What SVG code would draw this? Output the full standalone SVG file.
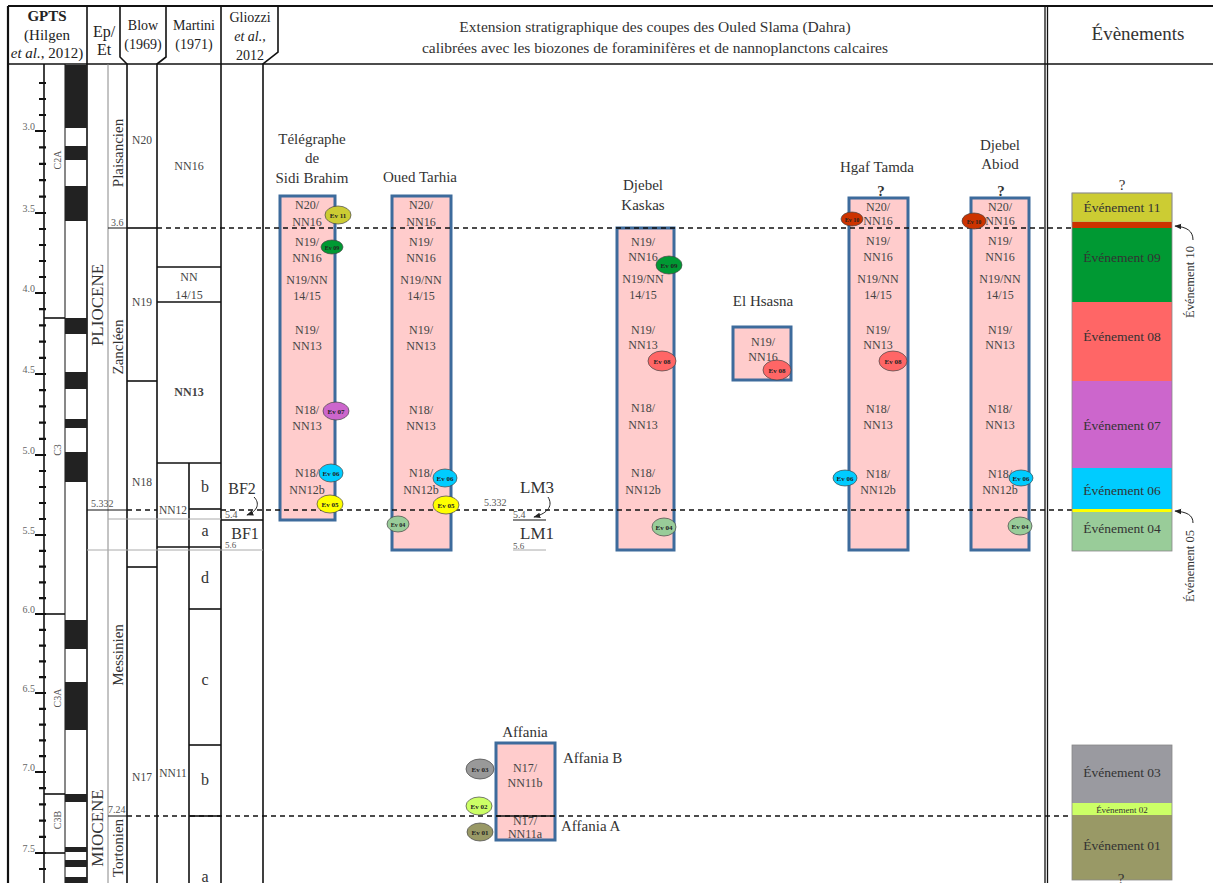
<svg xmlns="http://www.w3.org/2000/svg" width="1213" height="883" viewBox="0 0 1213 883">
<defs>
<style>
text{font-family:"Liberation Serif","Times New Roman",serif;fill:#333}
.hd{font-size:14px;text-anchor:middle;fill:#222}
.t15{font-size:15px;text-anchor:middle}
.lb{font-size:12px;text-anchor:middle;fill:#444}
.sm{font-size:10px;fill:#555}
.ag{font-size:10px;text-anchor:end;fill:#666}
.ev{font-size:7px;font-weight:bold;text-anchor:middle;fill:#222}
.eb{font-size:13.5px;text-anchor:middle;fill:#333}
.ln{stroke:#111;stroke-width:1.6;fill:none}
.th{stroke:#111;stroke-width:1;fill:none}
.gr{stroke:#aaa;stroke-width:1;fill:none}
.ds{stroke:#111;stroke-width:1.3;stroke-dasharray:5 4;fill:none}
.sec{fill:#ffcccc;stroke:#3d6b9c;stroke-width:3}
.bub{stroke:#444;stroke-width:0.7}
.blk{fill:#222}
.arr{stroke:#222;stroke-width:1;fill:none;marker-end:url(#ah)}
</style>
<marker id="ah" viewBox="0 0 10 10" refX="9" refY="5" markerWidth="7" markerHeight="7" orient="auto-start-reverse"><path d="M0,1 L10,5 L0,9 z" fill="#222"/></marker>
</defs>
<rect width="1213" height="883" fill="#fff"/>

<g id="frame">
<line class="ln" x1="8" y1="6" x2="1213" y2="6" style="stroke-width:2"/>
<line class="ln" x1="8" y1="64" x2="1213" y2="64"/>
<line class="ln" x1="8" y1="6" x2="8" y2="883" style="stroke-width:2.2"/>
<line class="ln" x1="87" y1="6" x2="87" y2="883"/>
<path class="ln" d="M120,6 L120,57 L127,64 L127,883"/>
<path class="ln" d="M166,6 L166,57 L157,64 L157,883"/>
<line class="ln" x1="221" y1="6" x2="221" y2="883"/>
<path class="ln" d="M278,6 L278,52 L263,64 L263,883"/>
<line class="th" x1="1045" y1="6" x2="1045" y2="883" style="stroke-width:1.3"/>
<line class="th" x1="1047.5" y1="6" x2="1047.5" y2="883" style="stroke-width:1.3"/>
<line class="ln" x1="44" y1="64" x2="44" y2="883"/>
<line class="th" x1="65" y1="64" x2="65" y2="883"/>
<line class="gr" x1="108" y1="64" x2="108" y2="883" style="stroke:#888"/>
<line class="ln" x1="189" y1="463" x2="189" y2="883"/>
</g>

<g id="header">
<text class="hd" x="47" y="21" style="font-size:15px;font-weight:bold">GPTS</text>
<text class="hd" x="47" y="40" style="font-size:15px">(Hilgen</text>
<text class="hd" x="47" y="58" style="font-size:15px"><tspan style="font-style:italic">et al.</tspan>, 2012)</text>
<text class="hd" x="104" y="37" style="font-size:16px">Ep/</text>
<text class="hd" x="104" y="55" style="font-size:16px">Et</text>
<text class="hd" x="143" y="30">Blow</text>
<text class="hd" x="143" y="49">(1969)</text>
<text class="hd" x="194" y="30">Martini</text>
<text class="hd" x="194" y="49">(1971)</text>
<text class="hd" x="250" y="22">Gliozzi</text>
<text class="hd" x="250" y="41" style="font-style:italic">et al.,</text>
<text class="hd" x="250" y="60">2012</text>
<text class="t15" x="655" y="32" style="font-size:15.5px">Extension stratigraphique des coupes des Ouled Slama (Dahra)</text>
<text class="t15" x="655" y="53" style="font-size:15.5px">calibrées avec les biozones de foraminifères et de nannoplanctons calcaires</text>
<text class="t15" x="1138" y="40" style="font-size:19px">Évènements</text>
</g>

<g id="age-scale">
<path class="th" style="stroke-width:2.2" d="M39,83H46M39,99H46M39,115H46M35,131H46M39,147.4H46M39,163.8H46M39,180.2H46M39,196.6H46M35,213H46M39,229H46M39,245H46M39,261H46M39,277H46M35,293H46M39,309.2H46M39,325.4H46M39,341.6H46M39,357.8H46M35,374H46M39,390.2H46M39,406.4H46M39,422.6H46M39,438.8H46M35,455H46M39,471H46M39,487H46M39,503H46M39,519H46M35,535H46M39,550.8H46M39,566.6H46M39,582.4H46M39,598.2H46M35,614H46M39,629.8H46M39,645.6H46M39,661.4H46M39,677.2H46M35,693H46M39,708.8H46M39,724.6H46M39,740.4H46M39,756.2H46M35,772H46M39,788.2H46M39,804.4H46M39,820.6H46M39,836.8H46M35,853H46M39,869H46"/>
<text class="ag" x="35" y="130">3.0</text>
<text class="ag" x="35" y="212">3.5</text>
<text class="ag" x="35" y="292">4.0</text>
<text class="ag" x="35" y="373">4.5</text>
<text class="ag" x="35" y="454">5.0</text>
<text class="ag" x="35" y="534">5.5</text>
<text class="ag" x="35" y="613">6.0</text>
<text class="ag" x="35" y="692">6.5</text>
<text class="ag" x="35" y="771">7.0</text>
<text class="ag" x="35" y="852">7.5</text>
</g>

<g id="chrons">
<line class="ln" x1="44" y1="318" x2="65" y2="318"/>
<line class="ln" x1="35" y1="614" x2="65" y2="614"/>
<line class="ln" x1="44" y1="794" x2="65" y2="794"/>
<line class="ln" x1="35" y1="853" x2="65" y2="853"/>
<text class="sm" x="57" y="160" text-anchor="middle" transform="rotate(-90 57 160)" dy="3.5">C2A</text>
<text class="sm" x="57" y="450" text-anchor="middle" transform="rotate(-90 57 450)" dy="3.5">C3</text>
<text class="sm" x="57" y="698" text-anchor="middle" transform="rotate(-90 57 698)" dy="3.5">C3A</text>
<text class="sm" x="57" y="820" text-anchor="middle" transform="rotate(-90 57 820)" dy="3.5">C3B</text>
</g>

<g id="polarity">
<rect class="blk" x="65" y="65" width="22" height="63"/>
<rect class="blk" x="65" y="146" width="22" height="14"/>
<rect class="blk" x="65" y="186" width="22" height="35"/>
<rect class="blk" x="65" y="318" width="22" height="16"/>
<rect class="blk" x="65" y="372" width="22" height="17"/>
<rect class="blk" x="65" y="419" width="22" height="9"/>
<rect class="blk" x="65" y="452" width="22" height="30"/>
<rect class="blk" x="65" y="620" width="22" height="29"/>
<rect class="blk" x="65" y="682" width="22" height="48"/>
<rect class="blk" x="65" y="794" width="22" height="8"/>
<rect class="blk" x="65" y="847" width="22" height="5"/>
<rect class="blk" x="65" y="860" width="22" height="7"/>
<rect class="blk" x="65" y="877" width="22" height="6"/>
</g>

<g id="epochs-stages">
<text class="t15" x="97" y="305" style="font-size:17px" transform="rotate(-90 97 305)" dy="6">PLIOCENE</text>
<text class="t15" x="97" y="828" style="font-size:17px" transform="rotate(-90 97 828)" dy="6">MIOCENE</text>
<text class="t15" x="118" y="153" transform="rotate(-90 118 153)" dy="5">Plaisancien</text>
<text class="t15" x="118" y="347" transform="rotate(-90 118 347)" dy="5">Zancléen</text>
<text class="t15" x="118" y="655" transform="rotate(-90 118 655)" dy="5">Messinien</text>
<text class="t15" x="118" y="848" transform="rotate(-90 118 848)" dy="5">Tortonien</text>
<line class="th" x1="108" y1="228" x2="127" y2="228"/>
<text class="sm" x="111" y="226">3.6</text>
<line class="th" x1="87" y1="510" x2="127" y2="510"/>
<text class="sm" x="91" y="507">5.332</text>
<line class="th" x1="108" y1="816" x2="127" y2="816"/>
<text class="sm" x="108" y="813">7.24</text>
<line class="gr" x1="108" y1="519" x2="221" y2="519"/>
<line class="gr" x1="87" y1="550" x2="263" y2="550"/>
</g>

<g id="blow">
<line class="ln" x1="127" y1="228" x2="157" y2="228"/>
<line class="ln" x1="127" y1="381" x2="157" y2="381"/>
<line class="ln" x1="127" y1="567" x2="157" y2="567"/>
<text class="lb" x="142" y="144" style="font-size:11.5px">N20</text>
<text class="lb" x="142" y="306" style="font-size:11.5px">N19</text>
<text class="lb" x="142" y="486" style="font-size:11.5px">N18</text>
<text class="lb" x="142" y="781" style="font-size:11.5px">N17</text>
</g>

<g id="martini">
<line class="ln" x1="157" y1="267" x2="221" y2="267"/>
<line class="ln" x1="157" y1="302" x2="221" y2="302"/>
<line class="ln" x1="157" y1="463" x2="221" y2="463"/>
<line class="ln" x1="189" y1="509" x2="221" y2="509"/>
<line class="ln" x1="157" y1="547" x2="221" y2="547"/>
<line class="ln" x1="189" y1="609" x2="221" y2="609"/>
<line class="ln" x1="189" y1="745" x2="221" y2="745"/>
<line class="ln" x1="189" y1="816" x2="221" y2="816"/>
<text class="lb" x="189" y="170">NN16</text>
<text class="lb" x="189" y="281">NN</text>
<text class="lb" x="189" y="299">14/15</text>
<text class="lb" x="189" y="396" style="font-weight:bold">NN13</text>
<text class="lb" x="173" y="514" style="font-size:11.5px">NN12</text>
<text class="lb" x="173" y="777" style="font-size:11.5px">NN11</text>
<text class="t15" x="205" y="492" style="font-size:16px">b</text>
<text class="t15" x="205" y="536" style="font-size:16px">a</text>
<text class="t15" x="205" y="583" style="font-size:16px">d</text>
<text class="t15" x="205" y="685" style="font-size:16px">c</text>
<text class="t15" x="205" y="785" style="font-size:16px">b</text>
<text class="t15" x="205" y="882" style="font-size:16px">a</text>
</g>

<g id="gliozzi">
<line class="ln" x1="221" y1="520" x2="263" y2="520"/>
<text class="t15" x="242" y="494" style="font-size:16px">BF2</text>
<text class="t15" x="245" y="539" style="font-size:16px">BF1</text>
<text class="sm" x="225" y="518">5.4</text>
<text class="sm" x="225" y="548" style="font-size:9px">5.6</text>
</g>

<g id="sec-telegraphe">
<rect class="sec" x="280" y="196" width="55" height="324"/>
<text class="t15" x="312" y="144">Télégraphe</text>
<text class="t15" x="312" y="163">de</text>
<text class="t15" x="312" y="183">Sidi Brahim</text>
<text class="lb" x="307" y="209">N20/</text><text class="lb" x="307" y="226">NN16</text>
<text class="lb" x="307" y="246">N19/</text><text class="lb" x="307" y="262">NN16</text>
<text class="lb" x="307" y="284">N19/NN</text><text class="lb" x="307" y="300">14/15</text>
<text class="lb" x="307" y="334">N19/</text><text class="lb" x="307" y="350">NN13</text>
<text class="lb" x="307" y="414">N18/</text><text class="lb" x="307" y="430">NN13</text>
<text class="lb" x="307" y="477">N18/</text><text class="lb" x="307" y="494">NN12b</text>
</g>

<g id="sec-oued-tarhia">
<rect class="sec" x="392" y="196" width="59" height="354"/>
<text class="t15" x="420" y="182">Oued Tarhia</text>
<text class="lb" x="421" y="209">N20/</text><text class="lb" x="421" y="226">NN16</text>
<text class="lb" x="421" y="246">N19/</text><text class="lb" x="421" y="262">NN16</text>
<text class="lb" x="421" y="284">N19/NN</text><text class="lb" x="421" y="300">14/15</text>
<text class="lb" x="421" y="334">N19/</text><text class="lb" x="421" y="350">NN13</text>
<text class="lb" x="421" y="414">N18/</text><text class="lb" x="421" y="430">NN13</text>
<text class="lb" x="421" y="477">N18/</text><text class="lb" x="421" y="494">NN12b</text>
</g>

<g id="lm-marks">
<text class="t15" x="537" y="493" style="font-size:17px">LM3</text>
<text class="sm" x="484" y="506">5.332</text>
<text class="sm" x="513" y="518">5.4</text>
<line class="th" x1="513" y1="520" x2="546" y2="520"/>
<text class="t15" x="537" y="539" style="font-size:17px">LM1</text>
<text class="sm" x="513" y="549" style="font-size:9px">5.6</text>
<line class="gr" x1="513" y1="550" x2="546" y2="550"/>
</g>

<g id="sec-djebel-kaskas">
<rect class="sec" x="617" y="228" width="57" height="322"/>
<text class="t15" x="643" y="190">Djebel</text>
<text class="t15" x="643" y="210">Kaskas</text>
<text class="lb" x="643" y="246">N19/</text><text class="lb" x="643" y="261">NN16</text>
<text class="lb" x="643" y="283">N19/NN</text><text class="lb" x="643" y="299">14/15</text>
<text class="lb" x="643" y="334">N19/</text><text class="lb" x="643" y="349">NN13</text>
<text class="lb" x="643" y="412">N18/</text><text class="lb" x="643" y="429">NN13</text>
<text class="lb" x="643" y="477">N18/</text><text class="lb" x="643" y="494">NN12b</text>
</g>

<g id="sec-el-hsasna">
<rect class="sec" x="733" y="327" width="58" height="53"/>
<text class="t15" x="763" y="306">El Hsasna</text>
<text class="lb" x="763" y="346">N19/</text><text class="lb" x="763" y="361">NN16</text>
</g>

<g id="sec-hgaf-tamda">
<rect class="sec" x="849" y="198" width="59" height="352"/>
<text class="t15" x="877" y="172">Hgaf Tamda</text>
<text class="t15" x="881" y="196" style="font-weight:bold">?</text>
<text class="lb" x="878" y="211">N20/</text><text class="lb" x="878" y="225">NN16</text>
<text class="lb" x="878" y="245">N19/</text><text class="lb" x="878" y="261">NN16</text>
<text class="lb" x="878" y="283">N19/NN</text><text class="lb" x="878" y="299">14/15</text>
<text class="lb" x="878" y="334">N19/</text><text class="lb" x="878" y="349">NN13</text>
<text class="lb" x="878" y="413">N18/</text><text class="lb" x="878" y="429">NN13</text>
<text class="lb" x="878" y="478">N18/</text><text class="lb" x="878" y="494">NN12b</text>
</g>

<g id="sec-djebel-abiod">
<rect class="sec" x="971" y="198" width="58" height="352"/>
<text class="t15" x="1000" y="150">Djebel</text>
<text class="t15" x="1000" y="169">Abiod</text>
<text class="t15" x="1001" y="196" style="font-weight:bold">?</text>
<text class="lb" x="1000" y="211">N20/</text><text class="lb" x="1000" y="225">NN16</text>
<text class="lb" x="1000" y="245">N19/</text><text class="lb" x="1000" y="261">NN16</text>
<text class="lb" x="1000" y="283">N19/NN</text><text class="lb" x="1000" y="299">14/15</text>
<text class="lb" x="1000" y="334">N19/</text><text class="lb" x="1000" y="349">NN13</text>
<text class="lb" x="1000" y="413">N18/</text><text class="lb" x="1000" y="429">NN13</text>
<text class="lb" x="1000" y="478">N18/</text><text class="lb" x="1000" y="494">NN12b</text>
</g>

<g id="sec-affania">
<rect class="sec" x="496" y="743" width="59" height="97"/>
<text class="t15" x="525" y="737">Affania</text>
<text class="t15" x="563" y="763" style="text-anchor:start">Affania B</text>
<text class="t15" x="561" y="831" style="text-anchor:start">Affania A</text>
<text class="lb" x="525" y="772">N17/</text><text class="lb" x="525" y="787">NN11b</text>
<text class="lb" x="525" y="825">N17/</text><text class="lb" x="525" y="838">NN11a</text>
</g>

<g id="guides">
<line class="ds" x1="157" y1="228" x2="1072" y2="228"/>
<line class="ds" x1="127" y1="510" x2="157" y2="510"/>
<line class="ds" x1="221" y1="510" x2="1072" y2="510"/>
<line class="ds" x1="127" y1="816" x2="1072" y2="816"/>
<line class="th" x1="496" y1="816" x2="555" y2="816" style="stroke-width:1.5"/>
</g>

<g id="events">
<text class="t15" x="1122" y="190">?</text>
<g id="evt-11"><rect x="1072" y="193" width="100" height="29" fill="#cccc33" stroke="#999" stroke-width="0.6"/><text class="eb" x="1122" y="212">Événement 11</text></g>
<g id="evt-10"><rect x="1072" y="222" width="100" height="6" fill="#cc3300"/></g>
<g id="evt-09"><rect x="1072" y="228" width="100" height="74" fill="#009933"/><text class="eb" x="1122" y="262">Événement 09</text></g>
<g id="evt-08"><rect x="1072" y="302" width="100" height="79" fill="#ff6666"/><text class="eb" x="1122" y="341">Événement 08</text></g>
<g id="evt-07"><rect x="1072" y="381" width="100" height="87" fill="#cc66cc"/><text class="eb" x="1122" y="430">Événement 07</text></g>
<g id="evt-06"><rect x="1072" y="468" width="100" height="41" fill="#00ccff"/><text class="eb" x="1122" y="495">Événement 06</text></g>
<g id="evt-05"><rect x="1072" y="509" width="100" height="3" fill="#ffff00"/></g>
<g id="evt-04"><rect x="1072" y="512" width="100" height="39" fill="#99cc99"/><text class="eb" x="1122" y="533">Événement 04</text></g>
<rect x="1072" y="193" width="100" height="358" fill="none" stroke="#888" stroke-width="0.8"/>
<text x="1194" y="282" style="font-size:12.5px" text-anchor="middle" transform="rotate(-90 1194 282)">Événement 10</text>
<text x="1194" y="566" style="font-size:12.5px" text-anchor="middle" transform="rotate(-90 1194 566)">Événement 05</text>
<g id="evt-03"><rect x="1072" y="745" width="100" height="58" fill="#9a9aa0"/><text class="eb" x="1122" y="777">Événement 03</text></g>
<g id="evt-02"><rect x="1072" y="803" width="100" height="12" fill="#ccff66"/><text class="eb" x="1122" y="812.5" style="font-size:9px">Événement 02</text></g>
<g id="evt-01"><rect x="1072" y="815" width="100" height="65" fill="#999966"/><text class="eb" x="1122" y="850">Événement 01</text></g>
<rect x="1072" y="745" width="100" height="135" fill="none" stroke="#888" stroke-width="0.8"/>
<text class="t15" x="1121" y="884">?</text>
</g>

<g id="connectors">
<path class="arr" d="M254,497 C260,503 258,511 247,515"/>
<path class="arr" d="M548,497 C553,505 549,513 534,517"/>
<path class="arr" d="M1193,240 C1193,231 1187,227 1175,226"/>
<path class="arr" d="M1193,523 C1193,515 1187,512 1175,511"/>
</g>

<g id="bubbles">
<g id="tsb-ev11"><ellipse class="bub" cx="338" cy="215" rx="13" ry="9" fill="#cccc33"/><text class="ev" x="338" y="217.5">Ev 11</text></g>
<g id="tsb-ev09"><ellipse class="bub" cx="332" cy="247" rx="11" ry="7" fill="#009933"/><text class="ev" x="332" y="249.5" style="font-size:6px">Ev 09</text></g>
<g id="tsb-ev07"><ellipse class="bub" cx="336" cy="411" rx="13" ry="9" fill="#cc66cc"/><text class="ev" x="336" y="413.5">Ev 07</text></g>
<g id="tsb-ev06"><ellipse class="bub" cx="331" cy="473" rx="12" ry="9" fill="#00ccff"/><text class="ev" x="331" y="475.5">Ev 06</text></g>
<g id="tsb-ev05"><ellipse class="bub" cx="330" cy="504" rx="13" ry="9" fill="#ffff00"/><text class="ev" x="330" y="506.5">Ev 05</text></g>
<g id="ot-ev06"><ellipse class="bub" cx="445" cy="478" rx="12" ry="9" fill="#00ccff"/><text class="ev" x="445" y="480.5">Ev 06</text></g>
<g id="ot-ev05"><ellipse class="bub" cx="446" cy="505" rx="13" ry="9" fill="#ffff00"/><text class="ev" x="446" y="507.5">Ev 05</text></g>
<g id="ot-ev04"><ellipse class="bub" cx="398" cy="524" rx="11" ry="8" fill="#99cc99"/><text class="ev" x="398" y="526.5" style="font-size:6px">Ev 04</text></g>
<g id="dk-ev09"><ellipse class="bub" cx="669" cy="265" rx="13" ry="9" fill="#009933"/><text class="ev" x="669" y="267.5">Ev 09</text></g>
<g id="dk-ev08"><ellipse class="bub" cx="662" cy="361" rx="14" ry="10" fill="#ff6666"/><text class="ev" x="662" y="363.5">Ev 08</text></g>
<g id="dk-ev04"><ellipse class="bub" cx="664" cy="527" rx="12" ry="9" fill="#99cc99"/><text class="ev" x="664" y="529.5">Ev 04</text></g>
<g id="eh-ev08"><ellipse class="bub" cx="777" cy="370" rx="14" ry="10" fill="#ff6666"/><text class="ev" x="777" y="372.5">Ev 08</text></g>
<g id="ht-ev10"><ellipse class="bub" cx="852" cy="219" rx="11" ry="7" fill="#cc3300"/><text class="ev" x="852" y="221.5" style="font-size:6px">Ev 10</text></g>
<g id="ht-ev08"><ellipse class="bub" cx="893" cy="361" rx="14" ry="10" fill="#ff6666"/><text class="ev" x="893" y="363.5">Ev 08</text></g>
<g id="ht-ev06"><ellipse class="bub" cx="845" cy="478" rx="12" ry="8" fill="#00ccff"/><text class="ev" x="845" y="480.5">Ev 06</text></g>
<g id="da-ev10"><ellipse class="bub" cx="974" cy="221" rx="12" ry="8" fill="#cc3300"/><text class="ev" x="974" y="223.5" style="font-size:6px">Ev 10</text></g>
<g id="da-ev06"><ellipse class="bub" cx="1021" cy="478" rx="12" ry="8" fill="#00ccff"/><text class="ev" x="1021" y="480.5">Ev 06</text></g>
<g id="da-ev04"><ellipse class="bub" cx="1020" cy="526" rx="12" ry="9" fill="#99cc99"/><text class="ev" x="1020" y="528.5">Ev 04</text></g>
<g id="af-ev03"><ellipse class="bub" cx="480" cy="769" rx="14" ry="10" fill="#999999"/><text class="ev" x="480" y="771.5">Ev 03</text></g>
<g id="af-ev02"><ellipse class="bub" cx="479" cy="806" rx="13" ry="9" fill="#ccff66"/><text class="ev" x="479" y="808.5">Ev 02</text></g>
<g id="af-ev01"><ellipse class="bub" cx="480" cy="832" rx="13" ry="9" fill="#999966"/><text class="ev" x="480" y="834.5">Ev 01</text></g>
</g>
</svg>
